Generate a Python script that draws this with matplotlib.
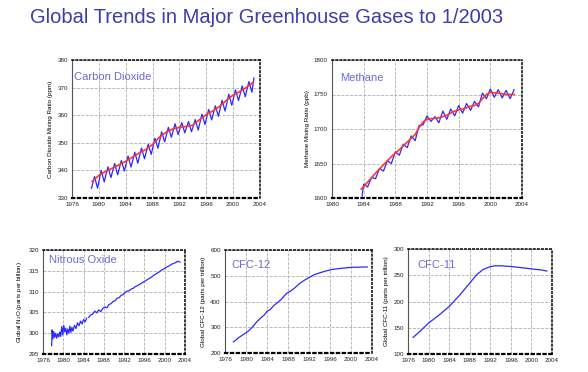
import numpy as np
import matplotlib
matplotlib.use('Agg')
import matplotlib.pyplot as plt

plt.rcParams['font.family'] = ['Liberation Sans', 'DejaVu Sans']

# carbon dioxide (ppm): seasonal curve and trend
co2_t = [1978.9, 1979.35, 1979.8, 1980.35, 1980.8, 1981.35, 1981.8, 1982.35, 1982.8,
         1983.35, 1983.8, 1984.35, 1984.8, 1985.35, 1985.8, 1986.35, 1986.8, 1987.35,
         1987.8, 1988.35, 1988.8, 1989.35, 1989.8, 1990.35, 1990.8, 1991.35, 1991.8,
         1992.35, 1992.8, 1993.35, 1993.8, 1994.35, 1994.8, 1995.35, 1995.8, 1996.35,
         1996.8, 1997.35, 1997.8, 1998.35, 1998.8, 1999.35, 1999.8, 2000.35, 2000.8,
         2001.35, 2001.8, 2002.35, 2002.8, 2003.1]
co2_v = [333.5, 337.8, 333.6, 340.0, 335.8, 341.3, 337.4, 342.5, 338.4,
         343.6, 339.8, 345.2, 341.2, 346.6, 342.6, 348.1, 344.2, 349.5,
         345.8, 351.7, 348.0, 354.0, 350.3, 355.6, 352.0, 356.9, 353.0,
         357.3, 353.6, 357.7, 354.0, 358.4, 354.6, 360.4, 356.6, 362.1,
         358.3, 363.4, 359.6, 365.4, 361.5, 367.6, 363.6, 369.2, 365.3,
         370.6, 366.7, 372.2, 368.3, 373.5]
co2_trend_t = [1979, 1980, 1981, 1982, 1983, 1984, 1985, 1986, 1987, 1988, 1989, 1990,
               1991, 1992, 1993, 1994, 1995, 1996, 1997, 1998, 1999, 2000, 2001, 2002, 2003]
co2_trend = [336.0, 338.2, 339.6, 340.8, 342.0, 343.3, 344.8, 346.3, 347.6, 349.4, 352.0,
             353.8, 355.0, 355.6, 355.9, 356.4, 358.4, 360.2, 361.6, 363.2, 365.4, 367.3,
             368.6, 370.1, 372.0]

# methane (ppb)
ch4_t = [1983.8, 1984.0, 1984.5, 1985.0, 1985.5, 1986.0, 1986.5, 1987.0, 1987.5, 1988.0,
         1988.5, 1989.0, 1989.5, 1990.0, 1990.5, 1991.0, 1991.5, 1992.0, 1992.5, 1993.0,
         1993.5, 1994.0, 1994.5, 1995.0, 1995.5, 1996.0, 1996.5, 1997.0, 1997.5, 1998.0,
         1998.5, 1999.0, 1999.5, 2000.0, 2000.5, 2001.0, 2001.5, 2002.0, 2002.5, 2003.0]
ch4_v = [1603, 1620, 1616, 1630, 1628, 1643, 1639, 1654, 1650, 1667,
         1662, 1678, 1673, 1690, 1683, 1705, 1706, 1719, 1711, 1718,
         1709, 1726, 1714, 1729, 1719, 1734, 1723, 1737, 1727, 1740,
         1732, 1752, 1744, 1758, 1746, 1757, 1745, 1756, 1744, 1757]
ch4_trend_t = [1983.7, 1984.5, 1985.5, 1986.5, 1987.5, 1988.5, 1989.5, 1990.5, 1991.0,
               1991.5, 1992.0, 1992.5, 1993.5, 1994.5, 1995.5, 1996.5, 1997.5, 1998.0,
               1998.5, 1999.0, 1999.5, 2000.0, 2001.0, 2002.0, 2003.0]
ch4_trend = [1613, 1623, 1636, 1648, 1660, 1670, 1681, 1692, 1702, 1710, 1714, 1715, 1716,
             1720, 1726, 1729, 1733, 1734, 1737, 1744, 1750, 1753, 1752, 1750, 1750]

# nitrous oxide (ppb), gap in record near 1985
n2o_t = [1977.7, 1977.8, 1977.95, 1978.1, 1978.3, 1978.5, 1978.7, 1978.9, 1979.1, 1979.3,
         1979.5, 1979.7, 1979.9, 1980.1, 1980.3, 1980.5, 1980.7, 1980.9, 1981.1, 1981.3,
         1981.5, 1981.7, 1981.9, 1982.2, 1982.5, 1982.8, 1983.1, 1983.4, 1983.7, 1984.0,
         1984.3, 1984.6, 1984.8, 1985.0, 1985.4, 1985.8, 1986.2, 1986.6, 1987.0, 1987.4,
         1987.8, 1988.2, 1988.6, 1989.0, 1989.4, 1989.8, 1990.2, 1990.6, 1991.0, 1991.4,
         1991.8, 1992.2, 1992.6, 1993.0, 1993.4, 1993.8, 1994.2, 1994.6, 1995.0, 1995.4,
         1995.8, 1996.2, 1996.6, 1997.0, 1997.4, 1997.8, 1998.2, 1998.6, 1999.0, 1999.4,
         1999.8, 2000.2, 2000.6, 2001.0, 2001.4, 2001.8, 2002.2, 2002.6, 2003.0]
n2o_v = [297.0, 300.8, 298.6, 300.4, 299.0, 300.0, 298.8, 299.8, 299.1, 300.3,
         299.2, 301.6, 299.6, 301.9, 300.3, 301.2, 299.6, 301.0, 300.0, 301.7,
         300.2, 301.4, 300.5, 301.9, 301.1, 302.5, 301.8, 302.9, 302.2, 303.3,
         302.7, 303.6, np.nan, 303.8, 304.4, 304.6, 305.3, 304.9, 305.6, 305.2,
         306.0, 306.3, 306.1, 306.9, 307.1, 307.6, 307.8, 308.4, 308.5, 309.1,
         309.3, 309.8, 310.1, 310.2, 310.6, 310.8, 311.2, 311.4, 311.7, 312.0,
         312.3, 312.6, 312.9, 313.2, 313.5, 313.9, 314.2, 314.5, 314.8, 315.2,
         315.4, 315.8, 316.0, 316.3, 316.6, 316.8, 317.0, 317.3, 317.1]

# CFC-12 (ppt)
cfc12_t = [1977.6, 1978.5, 1979.5, 1980.4, 1981.2, 1982.0, 1982.8, 1983.5, 1984.0, 1984.6,
           1985.2, 1985.9, 1986.6, 1987.2, 1987.8, 1988.6, 1989.4, 1990.1, 1991.0, 1992.0,
           1993.0, 1994.3, 1995.3, 1996.3, 1997.3, 1998.2, 1999.2, 2000.2, 2001.2, 2002.2,
           2003.1]
cfc12_v = [243, 258, 272, 284, 300, 320, 336, 348, 362, 368, 383, 394, 406, 420, 432, 442,
           455, 468, 481, 493, 504, 513, 519, 524, 527, 529, 531, 533, 533, 534, 534]

# CFC-11 (ppt)
cfc11_t = [1977.0, 1978.3, 1980.0, 1981.9, 1984.0, 1986.1, 1988.0, 1989.3, 1990.6, 1991.9,
           1992.9, 1994.2, 1996.1, 1998.0, 2000.1, 2002.0, 2003.0]
cfc11_v = [131.6, 143, 159, 173, 190.5, 212.7, 235, 250.6, 261, 266, 268, 268, 266.5,
           264.5, 262, 260, 258]

W, H = 588, 372
fig = plt.figure(figsize=(W / 100, H / 100), dpi=100)
fig.patch.set_facecolor('white')

BLUE = '#2a2aff'
RED = '#ff3333'
LABEL = '#6a6ad8'


def make_ax(box, xlim, ylim, xticks, yticks, ylabel, name, name_pos):
    l, t, r, b = box
    ax = fig.add_axes([l / W, 1 - b / H, (r - l) / W, (b - t) / H])
    ax.set_xlim(*xlim)
    ax.set_ylim(*ylim)
    ax.set_xticks(xticks)
    ax.set_yticks(yticks)
    ax.tick_params(length=0, labelsize=4.5, pad=3, colors='#222222')
    ax.grid(True, color='#b0b0b0', linestyle='--', linewidth=0.6)
    ax.set_axisbelow(True)
    for s in ['top', 'right', 'bottom']:
        ax.spines[s].set_linestyle(':')
        ax.spines[s].set_linewidth(1.1)
        ax.spines[s].set_color('black')
    ax.spines['bottom'].set_linewidth(1.6)
    ax.spines['left'].set_color('#555555')
    ax.spines['left'].set_linewidth(0.8)
    ax.set_ylabel(ylabel, fontsize=4.5, labelpad=3)
    ax.text(name_pos[0], name_pos[1], name, transform=ax.transAxes, color=LABEL,
            fontsize=8, va='center', ha='left')
    return ax


fig.text(0.453, 0.952, 'Global Trends in Major Greenhouse Gases to 1/2003',
         ha='center', va='center', fontsize=14.5, color='#3c3cac')

ax1 = make_ax((72, 60, 260, 198), (1976, 2004), (330, 380),
              range(1976, 2005, 4), range(330, 381, 10),
              'Carbon Dioxide Mixing Ratio (ppm)', 'Carbon Dioxide', (0.01, 0.88))
ax1.plot(co2_t, co2_v, color=BLUE, lw=0.9)
ax1.plot(co2_trend_t, co2_trend, color=RED, lw=1.2)

ax2 = make_ax((332, 60, 522, 198), (1980, 2004), (1600, 1800),
              range(1980, 2005, 4), range(1600, 1801, 50),
              'Methane Mixing Ratio (ppb)', 'Methane', (0.045, 0.87))
ax2.plot(ch4_t, ch4_v, color=BLUE, lw=0.9)
ax2.plot(ch4_trend_t, ch4_trend, color=RED, lw=1.2)

ax3 = make_ax((43, 250, 185, 354), (1976, 2004), (295, 320),
              range(1976, 2005, 4), range(295, 321, 5),
              'Global N$_2$O (parts per billion)', 'Nitrous Oxide', (0.04, 0.90))
ax3.plot(n2o_t, n2o_v, color=BLUE, lw=0.9)

ax4 = make_ax((225, 250, 372, 353), (1976, 2004), (200, 600),
              range(1976, 2005, 4), range(200, 601, 100),
              'Global CFC-12 (parts per trillion)', 'CFC-12', (0.045, 0.855))
ax4.plot(cfc12_t, cfc12_v, color=BLUE, lw=0.9)

ax5 = make_ax((408, 249, 552, 354), (1976, 2004), (100, 300),
              range(1976, 2005, 4), range(100, 301, 50),
              'Global CFC-11 (parts per trillion)', 'CFC-11', (0.065, 0.85))
ax5.plot(cfc11_t, cfc11_v, color=BLUE, lw=0.9)

fig.savefig('out.png', dpi=100)
